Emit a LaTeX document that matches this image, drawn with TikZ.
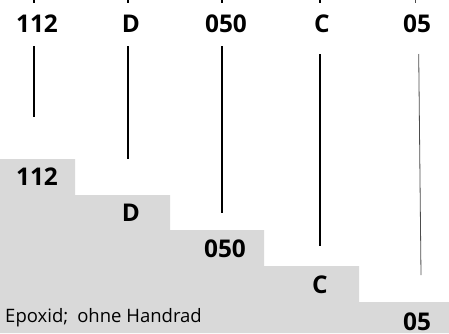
\documentclass[tikz,border=0pt]{standalone}
\usepackage{fontspec}
\setmainfont{Open Sans}
\definecolor{stepgray}{RGB}{217,217,217}

\begin{document}
\begin{tikzpicture}[x=1pt, y=1pt,
    code/.style={font=\fontsize{24.4}{24.4}\selectfont\bfseries, inner sep=0pt},
    note/.style={font=\fontsize{18.5}{18.5}\selectfont, inner sep=0pt},
    bar/.style={line width=1.8pt},
    thinbar/.style={line width=0.8pt, black!70}]
        \useasboundingbox (0,0) rectangle (449,333);
        \clip (0,0) rectangle (449,333);
        % grey staircase
        \fill[stepgray] (0,0) -- (449,0) -- (449,31) -- (359,31) -- (359,67)
          -- (264,67) -- (264,103) -- (170,103) -- (170,138) -- (75,138)
          -- (75,174) -- (0,174) -- cycle;
        % code on top
        \node[code] (top112) at (37,309) {112};
        \node[code] (topD) at (131,309) {D};
        \node[code] (top050) at (226,309) {050};
        \node[code] (topC) at (322,309) {C};
        \node[code] (top05) at (417,309) {05};
        % code on the steps
        \node[code] (step112) at (37,156) {112};
        \node[code] (stepD) at (131,120) {D};
        \node[code] (step050) at (225,84) {050};
        \node[code] (stepC) at (320,48) {C};
        \node[code] (step05) at (417,11.5) {05};
        \node[note, anchor=base east] (epoxid) at (202,11) {Epoxid;\hspace{9pt}ohne Handrad};
        % lines
        \draw[bar] (34,338) coordinate (in112) -- (34,330);
        \draw[bar] (128,338) coordinate (inD) -- (128,330);
        \draw[bar] (222,338) coordinate (in050) -- (222,330);
        \draw[bar] (320,338) coordinate (inC) -- (320,330);
        \draw[thinbar] (415,338) coordinate (in05) -- (415,330);
        \draw[bar] (34,287) coordinate (from112) -- (34,216) coordinate (to112);
        \draw[bar] (128,287) coordinate (fromD) -- (128,174) coordinate (toD);
        \draw[bar] (222,287) coordinate (from050) -- (222,120) coordinate (to050);
        \draw[bar] (320,279) coordinate (fromC) -- (320,87) coordinate (toC);
        \draw[thinbar] (418.7,279) coordinate (from05) -- (421,58) coordinate (to05);
      \end{tikzpicture}
\end{document}
